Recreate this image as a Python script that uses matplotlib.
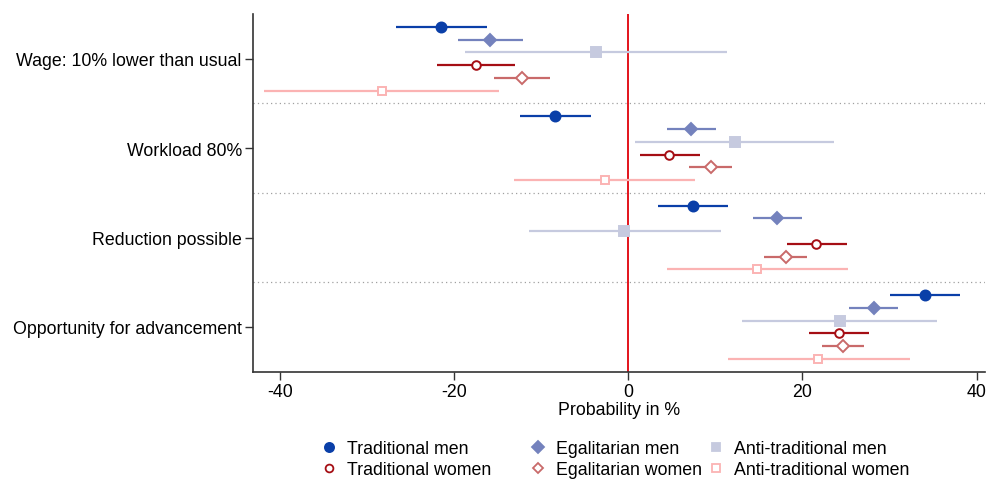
import matplotlib
matplotlib.use("Agg")
import matplotlib.pyplot as plt
from matplotlib.lines import Line2D

plt.rcParams['font.family'] = ['Liberation Sans', 'DejaVu Sans']

categories = ["Wage: 10% lower than usual", "Workload 80%", "Reduction possible", "Opportunity for advancement"]
series = ["Traditional men", "Egalitarian men", "Anti-traditional men",
          "Traditional women", "Egalitarian women", "Anti-traditional women"]

# point estimates per series (one per category)
est = {
    "Traditional men":        [-21.5, -8.4, 7.4, 34.1],
    "Egalitarian men":        [-15.9, 7.2, 17.1, 28.2],
    "Anti-traditional men":   [-3.7, 12.2, -0.5, 24.3],
    "Traditional women":      [-17.5, 4.7, 21.6, 24.2],
    "Egalitarian women":      [-12.2, 9.5, 18.1, 24.7],
    "Anti-traditional women": [-28.3, -2.7, 14.8, 21.8],
}
lo = {
    "Traditional men":        [-26.7, -12.4, 3.4, 30.1],
    "Egalitarian men":        [-19.6, 4.4, 14.3, 25.4],
    "Anti-traditional men":   [-18.7, 0.8, -11.4, 13.1],
    "Traditional women":      [-22.0, 1.3, 18.2, 20.8],
    "Egalitarian women":      [-15.4, 7.0, 15.6, 22.3],
    "Anti-traditional women": [-41.8, -13.1, 4.4, 11.4],
}
hi = {
    "Traditional men":        [-16.2, -4.3, 11.5, 38.1],
    "Egalitarian men":        [-12.1, 10.1, 19.9, 31.0],
    "Anti-traditional men":   [11.3, 23.6, 10.7, 35.5],
    "Traditional women":      [-13.0, 8.2, 25.1, 27.6],
    "Egalitarian women":      [-9.0, 11.9, 20.5, 27.1],
    "Anti-traditional women": [-14.8, 7.7, 25.2, 32.3],
}
xticks = [-40, -20, 0, 20, 40]

styles = {
    "Traditional men":        dict(color="#0A3FA8", marker="o", ms=7.2, mfc="#0A3FA8"),
    "Egalitarian men":        dict(color="#7482BD", marker="D", ms=6.5, mfc="#7482BD"),
    "Anti-traditional men":   dict(color="#C6CADF", marker="s", ms=6.8, mfc="#C6CADF"),
    "Traditional women":      dict(color="#A50E14", marker="o", ms=6.2, mfc="white"),
    "Egalitarian women":      dict(color="#C96A6A", marker="D", ms=6.2, mfc="white"),
    "Anti-traditional women": dict(color="#FBB3B3", marker="s", ms=6.2, mfc="white"),
}

FS = 12.8
fig = plt.figure(figsize=(9.87, 4.81), dpi=100)
ax = fig.add_axes([0.2563, 0.2252, 0.742, 0.7436])

gap = 7
for k, s in enumerate(series):
    st = styles[s]
    for g in range(len(categories)):
        y = g * gap + (k - 2.5)
        ax.plot([lo[s][g], hi[s][g]], [y, y], color=st["color"], lw=1.6, solid_capstyle="butt", zorder=2)
        ax.plot([est[s][g]], [y], marker=st["marker"], ms=st["ms"], mfc=st["mfc"],
                mec=st["color"], mew=1.4, linestyle="none", zorder=3)

ax.axvline(0, color="#E3131B", lw=1.4, zorder=1)
for g in range(1, len(categories)):
    ax.axhline(g * gap - gap / 2, color="#A0A0A0", lw=0.9, linestyle=(0, (1, 2.5)), zorder=0)

ax.set_ylim(len(categories) * gap - gap / 2, -gap / 2)
ax.set_xlim(-43.1, 41.0)
ax.set_yticks([g * gap for g in range(len(categories))])
ax.set_yticklabels(categories, fontsize=FS)
ax.set_xticks(xticks)
ax.set_xticklabels([str(t) for t in xticks], fontsize=FS)
ax.set_xlabel("Probability in %", fontsize=FS, labelpad=1)
for sp in ["top", "right"]:
    ax.spines[sp].set_visible(False)
for sp in ["left", "bottom"]:
    ax.spines[sp].set_color("#333333")
    ax.spines[sp].set_linewidth(1.2)
ax.tick_params(axis="both", length=6, width=1, color="#333333", pad=2)

columns = [["Traditional men", "Traditional women"],
           ["Egalitarian men", "Egalitarian women"],
           ["Anti-traditional men", "Anti-traditional women"]]
col_x = [0.3262, 0.538, 0.7183]
for cx, col in zip(col_x, columns):
    handles = []
    for s in col:
        st = styles[s]
        handles.append(Line2D([], [], linestyle="none", marker=st["marker"], ms=st["ms"] - 0.6,
                              mfc=st["mfc"], mec=st["color"], mew=1.3, label=s))
    fig.legend(handles=handles, ncol=1, loc="center left", bbox_to_anchor=(cx, 0.0436),
               frameon=False, fontsize=FS, handlelength=0.8, handletextpad=0.6,
               labelspacing=0.22, borderpad=0, borderaxespad=0)

fig.savefig("out.png", dpi=100)
